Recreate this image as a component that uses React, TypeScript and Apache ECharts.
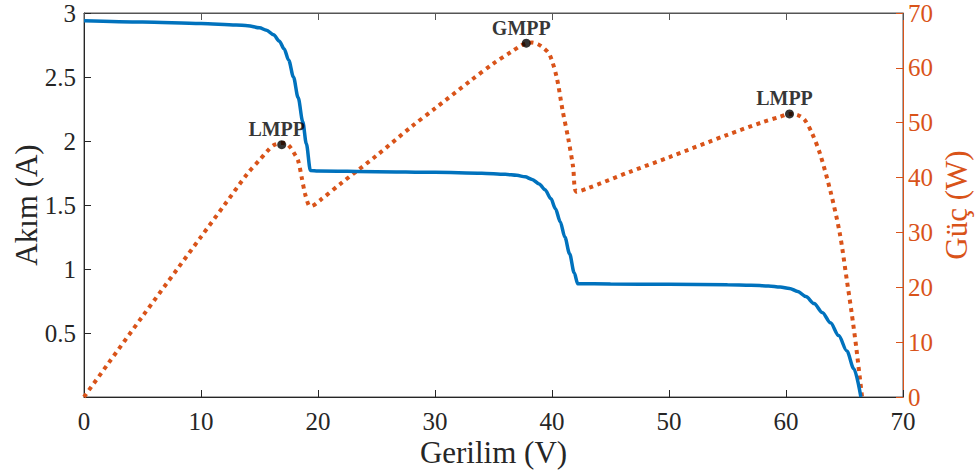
import React, { useEffect, useRef } from "react";
import * as echarts from "echarts";

// I-V curve (current, left axis)
const voltageI = [0, 5, 10, 13, 14, 15, 15.6, 16.2, 16.7, 17.1, 17.5, 17.9, 18.3, 18.7, 19.0, 19.35, 20, 25, 30, 34, 36, 37, 37.7, 38.3, 38.9, 39.4, 39.9, 40.3, 40.7, 41.1, 41.5, 41.9, 42.2, 45, 50, 55, 57, 58.5, 59.5, 60.3, 61, 61.7, 62.4, 63.1, 63.8, 64.5, 65.2, 65.8, 66.4];
const current = [2.94, 2.93, 2.918, 2.907, 2.9, 2.885, 2.865, 2.83, 2.78, 2.72, 2.63, 2.5, 2.34, 2.15, 1.98, 1.77, 1.766, 1.76, 1.755, 1.748, 1.74, 1.732, 1.72, 1.70, 1.665, 1.62, 1.55, 1.47, 1.37, 1.25, 1.12, 0.97, 0.885, 0.883, 0.88, 0.877, 0.874, 0.868, 0.86, 0.848, 0.825, 0.785, 0.73, 0.66, 0.58, 0.48, 0.36, 0.22, 0];

// P-V curve (power, right axis)
const voltageP = [0, 2, 5, 8, 10, 12, 14, 15, 15.7, 16.2, 16.9, 17.3, 17.6, 18.0, 18.3, 18.6, 18.9, 19.2, 19.4, 20.2, 22, 25, 28, 30, 33, 35, 36.5, 37.3, 37.8, 38.3, 38.8, 39.3, 39.8, 40.4, 40.9, 41.4, 41.8, 42.1, 43, 46.6, 50, 55, 58, 59.5, 60.3, 61, 61.6, 62.2, 62.9, 63.8, 64.6, 65.2, 65.6, 66.0, 66.5];
const power = [0, 5.9, 14.7, 23.4, 29.2, 35, 40.8, 43.2, 44.9, 45.9, 46.3, 46.2, 45.6, 44.3, 43.1, 40.1, 37.0, 35.0, 34.8, 35.9, 39.0, 44.0, 49.3, 52.6, 57.6, 60.8, 62.9, 64.0, 64.5, 64.6, 64.3, 63.6, 62.4, 58.3, 52.3, 47.0, 42.0, 37.4, 38.0, 41.0, 43.7, 47.8, 50.1, 51.1, 51.6, 51.4, 50.5, 48.2, 44.4, 37.5, 29.8, 21.3, 15.5, 9.1, 0];

// Maximum power points
const mppVoltage = [16.9, 37.8, 60.3];
const mppPower = [46.0, 64.5, 51.6];
const mppLabels = ["LMPP", "GMPP", "LMPP"];

const xTicks = [0, 10, 20, 30, 40, 50, 60, 70];

const BLUE = "#0072BD";
const ORANGE = "#D95319";
const DARK = "#262626";
const FONT = "'Liberation Serif', 'Times New Roman', serif";

export default function App() {
  const ref = useRef<HTMLDivElement>(null);
  useEffect(() => {
    if (!ref.current) return;
    const chart = echarts.init(ref.current, null, { renderer: "svg" });
    const option: any = {
      animation: false,
      backgroundColor: "#ffffff",
      textStyle: { fontFamily: FONT },
      grid: {
        left: 84, right: 76, top: 13, bottom: 79,
        outerBoundsMode: "none",
        show: true, borderColor: "#555555", borderWidth: 1,
      },
      xAxis: [
        {
          type: "value",
          min: xTicks[0],
          max: xTicks[xTicks.length - 1],
          interval: 10,
          name: "Gerilim (V)",
          nameLocation: "middle",
          nameGap: 40,
          nameMoveOverlap: false,
          nameTextStyle: { fontFamily: FONT, fontSize: 31, color: DARK },
          axisLine: { show: true, onZero: false, lineStyle: { color: DARK, width: 1 } },
          axisTick: { show: true, inside: true, length: 7, lineStyle: { color: DARK, width: 1 } },
          axisLabel: { fontFamily: FONT, fontSize: 25, color: DARK, margin: 12 },
          splitLine: { show: false },
        },
        {
          type: "value",
          position: "top",
          min: 0,
          max: 70,
          interval: 10,
          axisLine: { show: true, onZero: false, lineStyle: { color: "#555555", width: 1 } },
          axisTick: { show: true, inside: true, length: 7, lineStyle: { color: "#555555", width: 1 } },
          axisLabel: { show: false },
          splitLine: { show: false },
        },
      ],
      yAxis: [
        {
          type: "value",
          min: 0,
          max: 3,
          interval: 0.5,
          position: "left",
          name: "Akım (A)",
          nameLocation: "middle",
          nameGap: 42,
          nameMoveOverlap: false,
          nameTextStyle: { fontFamily: FONT, fontSize: 31, color: DARK },
          axisLine: { show: true, onZero: false, lineStyle: { color: DARK, width: 1 } },
          axisTick: { show: true, inside: true, length: 7, lineStyle: { color: DARK, width: 1 } },
          axisLabel: { fontFamily: FONT, fontSize: 25, color: DARK, margin: 8, showMinLabel: false },
          splitLine: { show: false },
        },
        {
          type: "value",
          min: 0,
          max: 70,
          interval: 10,
          position: "right",
          name: "Güç (W)",
          nameLocation: "middle",
          nameGap: 38,
          nameRotate: 90,
          nameMoveOverlap: false,
          nameTextStyle: { fontFamily: FONT, fontSize: 31, color: ORANGE },
          axisLine: { show: true, onZero: false, lineStyle: { color: ORANGE, width: 1 } },
          axisTick: { show: true, inside: true, length: 7, lineStyle: { color: ORANGE, width: 1 } },
          axisLabel: { fontFamily: FONT, fontSize: 25, color: ORANGE, margin: 5 },
          splitLine: { show: false },
        },
      ],
      series: [
        {
          type: "line",
          name: "Akım",
          xAxisIndex: 0,
          yAxisIndex: 0,
          data: voltageI.map((v, i) => [v, current[i]]),
          smooth: 0.3,
          smoothMonotone: "x",
          showSymbol: false,
          lineStyle: { color: BLUE, width: 3.5 },
          z: 3,
        },
        {
          type: "line",
          name: "Güç",
          xAxisIndex: 0,
          yAxisIndex: 1,
          data: voltageP.map((v, i) => [v, power[i]]),
          smooth: 0.3,
          showSymbol: false,
          lineStyle: { color: ORANGE, width: 4, type: [4, 4.5], cap: "butt" },
          z: 2,
        },
        {
          type: "scatter",
          xAxisIndex: 0,
          yAxisIndex: 1,
          data: mppVoltage.map((v, i) => ({ value: [v, mppPower[i]], label: { formatter: mppLabels[i] } })),
          symbol: "circle",
          symbolSize: 9,
          itemStyle: { color: "#000000" },
          label: {
            show: true,
            position: "top",
            distance: 1,
            offset: [-5, 0],
            fontFamily: FONT,
            fontSize: 20,
            fontWeight: "bold",
            color: "#000000",
          },
          z: 5,
        },
      ],
    };
    chart.setOption(option);
    return () => chart.dispose();
  }, []);
  return (
    <div
      ref={ref}
      style={{ position: "fixed", left: 0, top: 0, width: 979, height: 476, background: "#fff" }}
    />
  );
}
